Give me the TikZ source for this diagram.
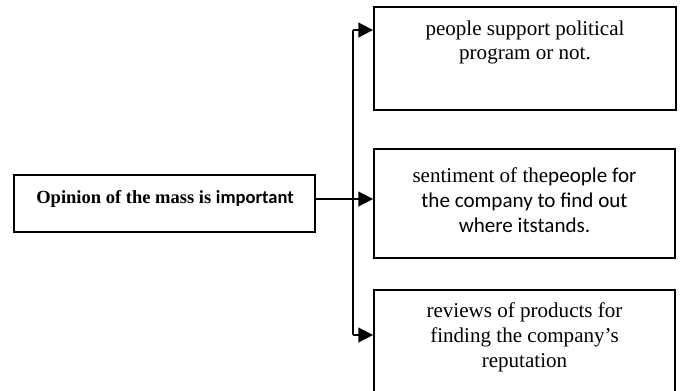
\documentclass[tikz,border=0pt]{standalone}
\usepackage{fontspec}
\setmainfont{Liberation Serif}
\newfontfamily\calibfont{Carlito}
\usetikzlibrary{arrows.meta}
\begin{document}
\begin{tikzpicture}[x=0.75pt,y=-0.75pt,
  box/.style={draw,line width=1.4pt,rectangle,inner sep=0pt},
  txt/.style={align=center,inner sep=0pt,font=\fontsize{15.8}{18.6}\selectfont},
  link/.style={line width=1.4pt,-{Triangle[length=11pt,width=11pt]}},
  trunk/.style={line width=1.4pt}]
\useasboundingbox (0,0) rectangle (682,390);
\clip (0,0) rectangle (682,390);
% source box
\node[box,minimum width=225.75pt,minimum height=42.75pt] (src) at (164.5,203.5) {};
\node[inner sep=0pt,font=\fontsize{13.9}{16}\selectfont\bfseries] (srct) at (165,199)
  {Opinion of the mass is {\calibfont important}};
% target boxes
\node[box,minimum width=226.5pt,minimum height=77.25pt] (top) at (525,58.5) {};
\node[txt] (topt) at (525,42.5) {people support political\\program or not.};
\node[box,minimum width=225.75pt,minimum height=81.75pt] (mid) at (524.5,203.5) {};
\node[txt] (midt) at (524.5,200) {sentiment of the{\calibfont people for}\\{\calibfont the company to find out}\\{\calibfont where itstands.}};
\node[box,minimum width=225.75pt,minimum height=90pt] (bot) at (524.5,350) {};
\node[txt] (bott) at (524.5,337.5) {reviews of products for\\finding the company’s\\reputation};
% connectors
\coordinate (jt) at (353,30);
\coordinate (jb) at (353,335);
\draw[trunk] (jt) -- (jb);
\draw[link] (src.east|-0,199) -- (mid.west|-0,199);
\draw[link] (jt) -- (jt-|top.west);
\draw[link] (jb) -- (jb-|bot.west);
\end{tikzpicture}
\end{document}
